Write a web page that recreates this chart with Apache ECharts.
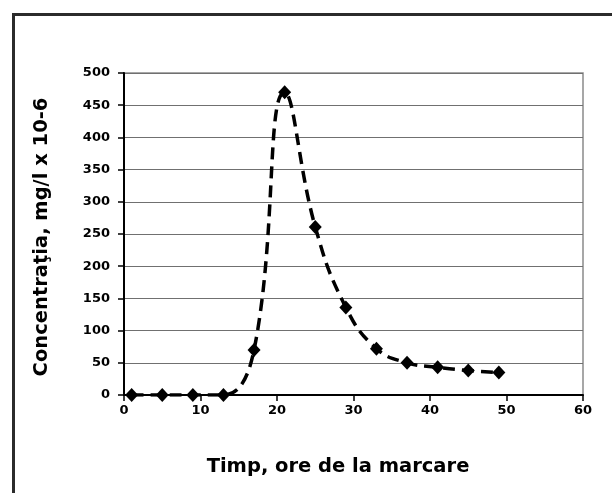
<!DOCTYPE html>
<html>
<head>
<meta charset="utf-8">
<script src="https://cdn.jsdelivr.net/npm/echarts@6/dist/echarts.min.js"></script>
<style>html,body{margin:0;padding:0;background:#fff;}#c{width:612px;height:493px;}</style>
</head>
<body>
<div id="c"></div>
<script>
const hours = [1, 5, 9, 13, 17, 21, 25, 29, 33, 37, 41, 45, 49];
const concentration = [0, 0, 0, 0, 70, 470, 261, 136, 72, 50, 43, 38, 35];
const xTicks = [0, 10, 20, 30, 40, 50, 60];
const yTicks = [0, 50, 100, 150, 200, 250, 300, 350, 400, 450, 500];
const xTitle = 'Timp, ore de la marcare';
const yTitle = 'Concentraţia, mg/l x 10-6';

const chart = echarts.init(document.getElementById('c'), null, {renderer: 'canvas'});
const tickFont = {fontFamily: 'DejaVu Sans', fontWeight: 'bold', fontSize: 13, color: '#000'};
chart.setOption({
  animation: false,
  backgroundColor: '#fff',
  grid: {left: 124, right: 29, top: 73, bottom: 98, show: true, borderColor: '#8a8a8a', borderWidth: 1.5},
  xAxis: {
    type: 'value', min: xTicks[0], max: xTicks[xTicks.length - 1], interval: 10,
    axisLine: {lineStyle: {color: '#000', width: 2}},
    axisTick: {show: true, length: 6, lineStyle: {color: '#000', width: 1.5}},
    axisLabel: Object.assign({margin: 9}, tickFont),
    splitLine: {show: false}
  },
  yAxis: {
    type: 'value', min: yTicks[0], max: yTicks[yTicks.length - 1], interval: 50,
    axisLine: {show: true, lineStyle: {color: '#000', width: 2}},
    axisTick: {show: true, length: 6, lineStyle: {color: '#000', width: 1.5}},
    axisLabel: Object.assign({margin: 14}, tickFont),
    splitLine: {show: true, lineStyle: {color: '#707070', width: 1}}
  },
  series: [{
    type: 'line',
    data: hours.map((h, i) => [h, concentration[i]]),
    smooth: 0.45,
    symbol: 'diamond',
    symbolSize: [13, 14],
    itemStyle: {color: '#000'},
    lineStyle: {color: '#000', width: 3.5, type: [12, 7]},
    z: 5
  }],
  graphic: [
    {type: 'rect', shape: {x: 13.5, y: 14.5, width: 1000, height: 1000}, style: {fill: null, stroke: '#2b2b2b', lineWidth: 3}, silent: true},
    {type: 'text', x: 338, y: 467, style: {text: xTitle, fontFamily: 'DejaVu Sans', fontWeight: 'bold', fontSize: 19.5, fill: '#000', textAlign: 'center', textVerticalAlign: 'middle'}},
    {type: 'text', x: 42, y: 237, rotation: Math.PI / 2, style: {text: yTitle, fontFamily: 'DejaVu Sans', fontWeight: 'bold', fontSize: 19.5, fill: '#000', textAlign: 'center', textVerticalAlign: 'middle'}}
  ]
});
</script>
</body>
</html>
